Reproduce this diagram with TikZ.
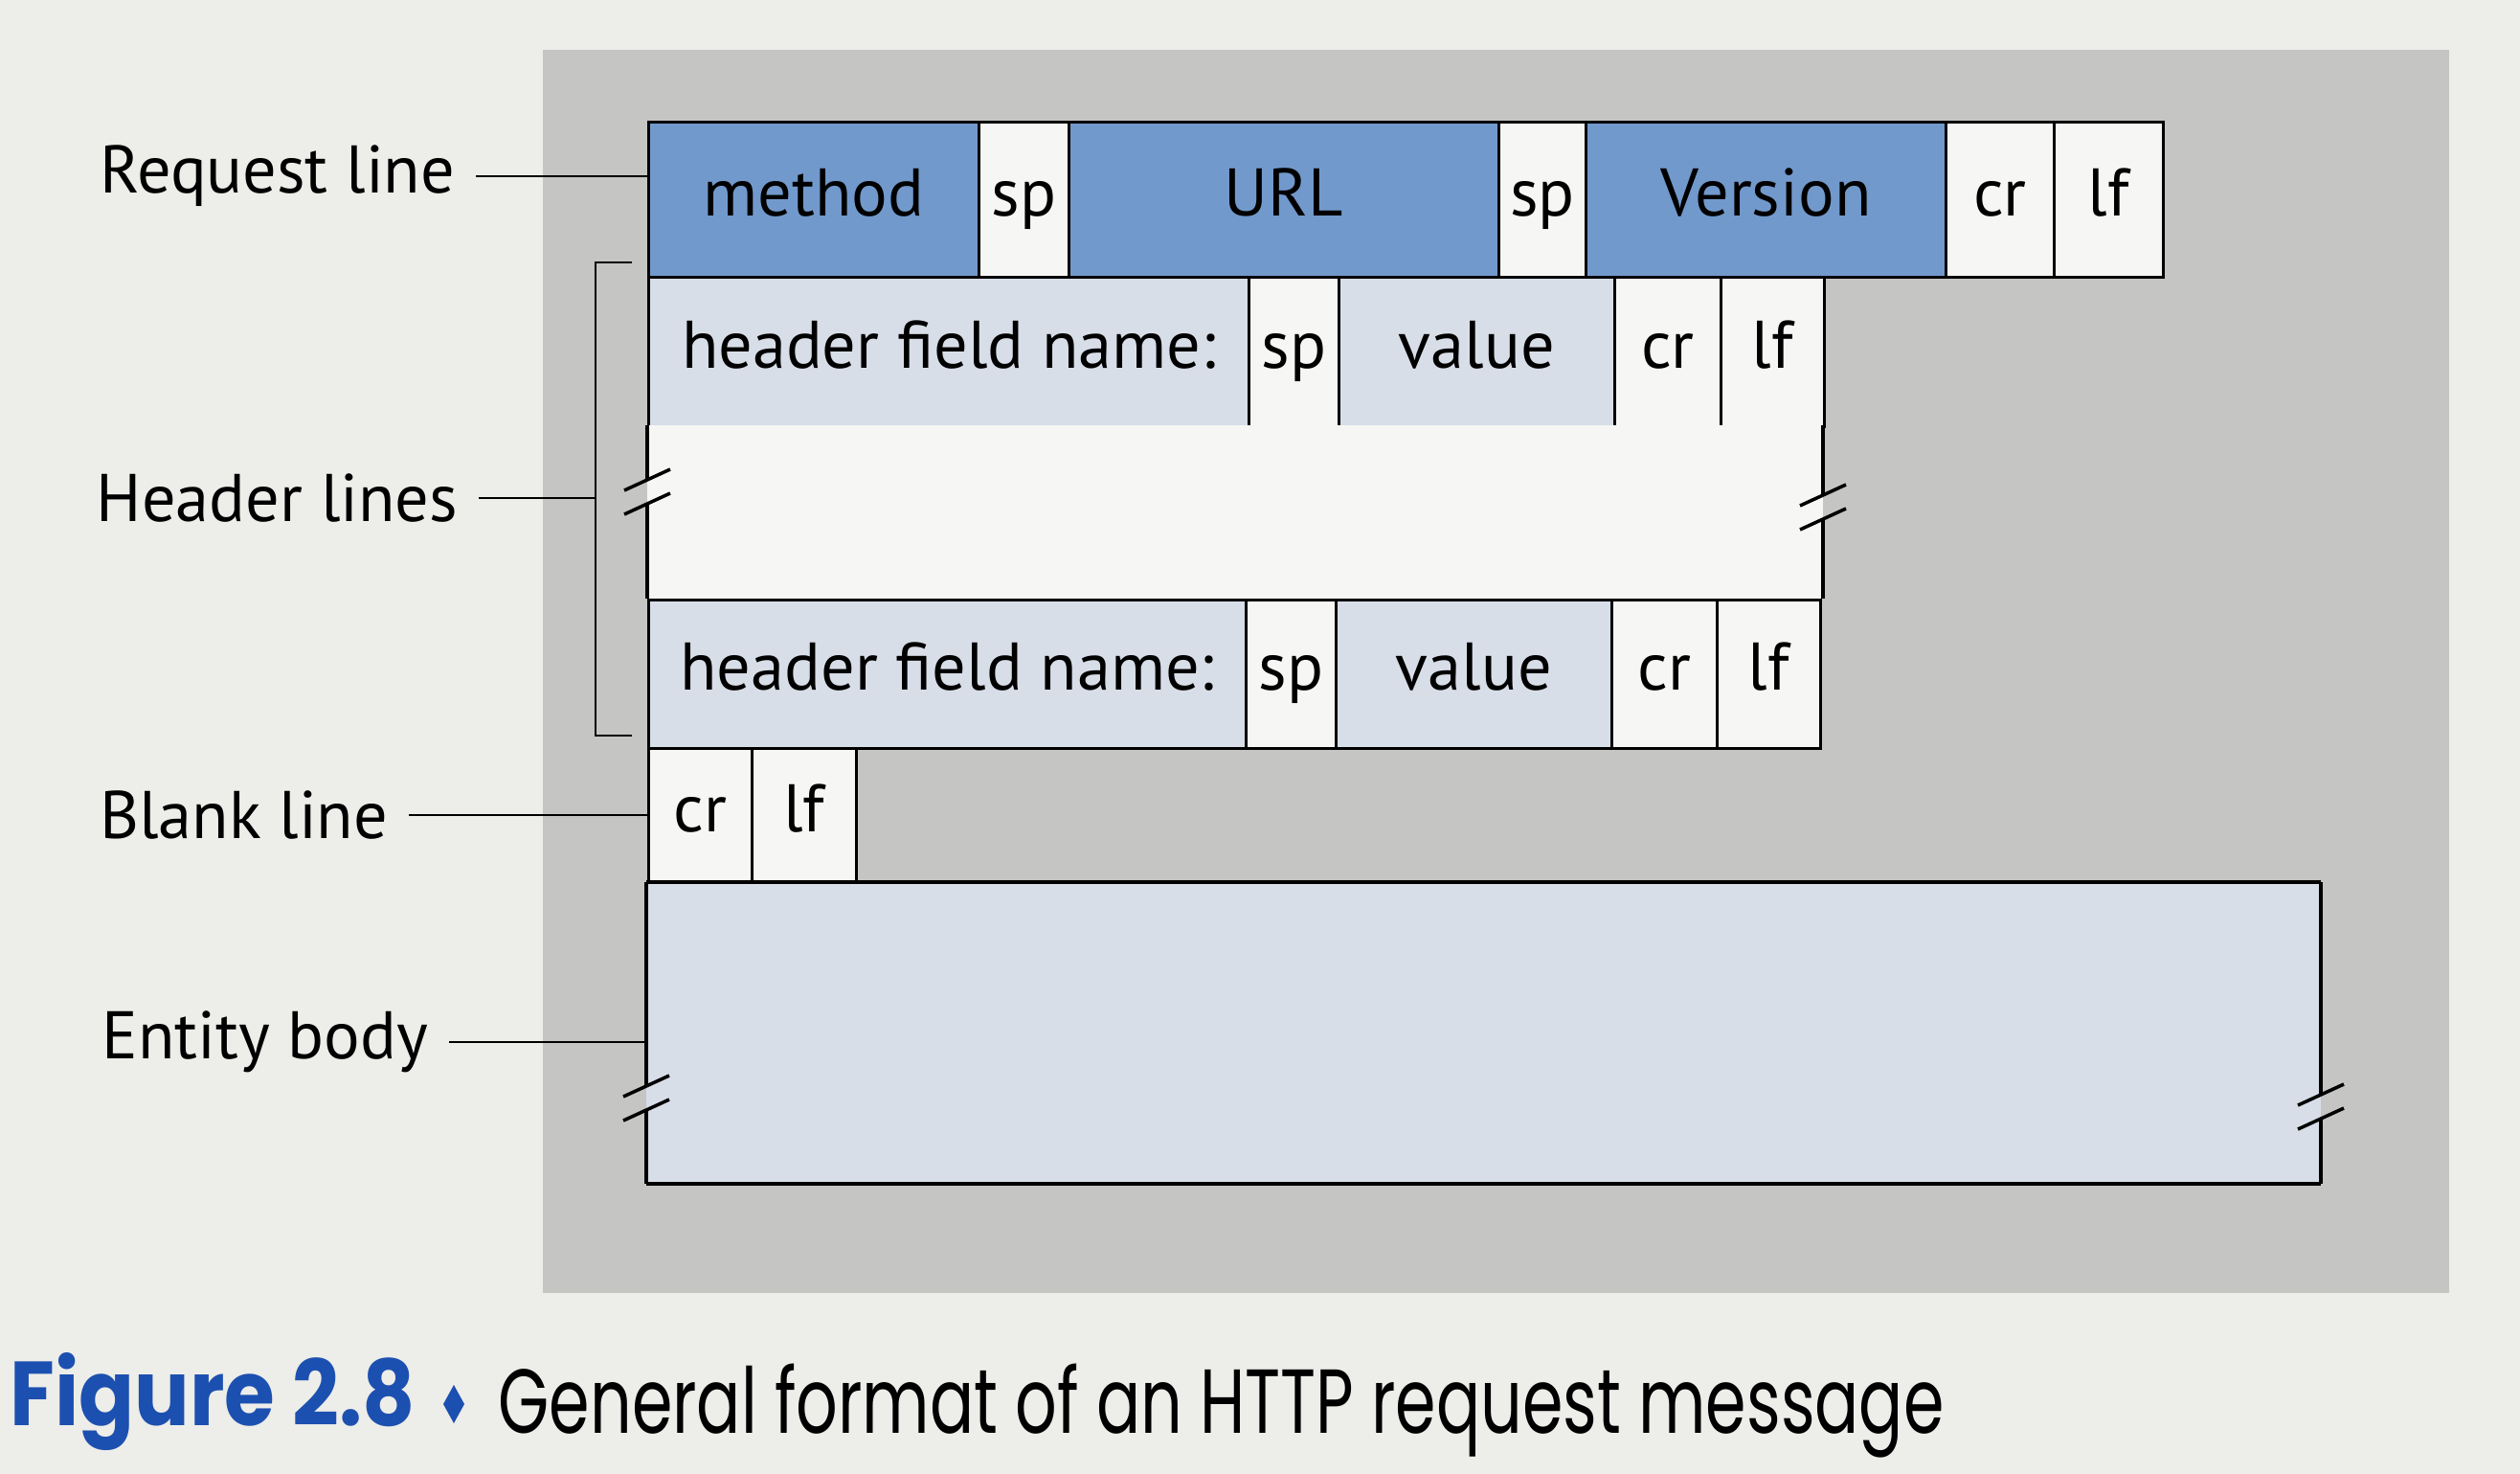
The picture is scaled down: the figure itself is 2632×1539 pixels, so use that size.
\documentclass[tikz,border=0pt]{standalone}
\usepackage{fontspec}
\setsansfont{PT Sans}
\newfontfamily\capfont[FakeStretch=0.72]{Poppins}
\newfontfamily\capnumfont[FakeStretch=0.9]{Poppins}
\usetikzlibrary{calc}

\definecolor{pagebg}{RGB}{237,237,233}
\definecolor{figbg}{RGB}{197,197,196}
\definecolor{fieldblue}{RGB}{114,153,204}
\definecolor{fieldpale}{RGB}{216,222,232}
\definecolor{fieldwhite}{RGB}{246,246,244}
\definecolor{capblue}{RGB}{28,80,176}

\newcommand\figfont{\sffamily\fontsize{20}{23}\selectfont}

\tikzset{
  cell/.style={draw, line width=0.8pt, inner sep=0pt, anchor=north west, font=\figfont, text=black,
    text height=2.7ex, text depth=0.5ex},
  bluecell/.style={cell, fill=fieldblue},
  palecell/.style={cell, fill=fieldpale},
  whitecell/.style={cell, fill=fieldwhite},
  partname/.style={font=\figfont, anchor=east, inner sep=6pt},
  leader/.style={line width=0.8pt},
  edge/.style={line width=1pt},
}

% cell with top left corner (x1,y1) and bottom right corner (x2,y2), in pixels
\def\cellbox[#1](#2)(#3,#4)(#5,#6)#7{\node[#1, minimum width={(#5-#3)*0.01cm}, minimum height={(#6-#4)*0.01cm}] (#2) at (#3,#4) {#7};}
% broken edge: two short slashes across a vertical line at (x,y)
\def\breakmark(#1,#2){\draw[edge] (#1-24,#2-1) -- (#1+24,#2-23); \draw[edge] (#1-24,#2+24) -- (#1+24,#2+2);}

\begin{document}
\begin{tikzpicture}[x=0.01cm, y=-0.01cm]
			%%%%% BACKGROUND %%%%%
			\fill[pagebg] (0,0) rectangle (2632,1539);
			\useasboundingbox (0,0) rectangle (2632,1539);
			\fill[figbg] (567,52) rectangle (2558,1350);

			%%%%% REQUEST LINE %%%%%
			\cellbox[bluecell](method)(676,126)(1021,288){method}
			\cellbox[whitecell](spa)(1021,126)(1115,288){sp}
			\cellbox[bluecell](url)(1115,126)(1564,288){URL}
			\cellbox[whitecell](spb)(1564,126)(1655,288){sp}
			\cellbox[bluecell](version)(1655,126)(2031,288){Version}
			\cellbox[whitecell](cra)(2031,126)(2144,288){cr}
			\cellbox[whitecell](lfa)(2144,126)(2258,288){lf}

			%%%%% HEADER LINES %%%%%
			\cellbox[palecell](hnamea)(676,288)(1303,444){header field name:}
			\cellbox[whitecell](spc)(1303,288)(1397,444){sp}
			\cellbox[palecell](valuea)(1397,288)(1685,444){value}
			\cellbox[whitecell](crb)(1685,288)(1796,444){cr}
			\cellbox[whitecell](lfb)(1796,288)(1904,444){lf}

			\fill[fieldwhite] (676,444) rectangle (1904,625);
			\draw[edge] (676,444) -- (676,500);
			\draw[edge] (676,525) -- (676,625);
			\breakmark(676,513)
			\draw[edge] (1904,444) -- (1904,516);
			\draw[edge] (1904,541) -- (1904,625);
			\breakmark(1904,529)

			\cellbox[palecell](hnameb)(676,625)(1300,780){header field name:}
			\cellbox[whitecell](spd)(1300,625)(1394,780){sp}
			\cellbox[palecell](valueb)(1394,625)(1682,780){value}
			\cellbox[whitecell](crc)(1682,625)(1792,780){cr}
			\cellbox[whitecell](lfc)(1792,625)(1900,780){lf}

			% bracket round the header lines
			\draw[leader] (660,274) -- (622,274) -- (622,768) -- (660,768);
			\coordinate (hbrace) at (622,520);

			%%%%% BLANK LINE %%%%%
			\cellbox[whitecell](crd)(676,780)(784,921){cr}
			\cellbox[whitecell](lfd)(784,780)(893,921){lf}

			%%%%% ENTITY BODY %%%%%
			\fill[fieldpale] (675,921) rectangle (2424,1236);
			\draw[edge] (675,921) -- (2424,921);
			\draw[edge] (675,1236) -- (2424,1236);
			\draw[edge] (675,921) -- (675,1133);
			\draw[edge] (675,1158) -- (675,1236);
			\breakmark(675,1146)
			\draw[edge] (2424,921) -- (2424,1142);
			\draw[edge] (2424,1167) -- (2424,1236);
			\breakmark(2424,1155)
			\coordinate (body) at (675,1088);

			%%%%% PART NAMES %%%%%
			\node[partname] (reqname) at (497,184) {Request line};
			\node[partname] (hdrname) at (500,520) {Header lines};
			\node[partname] (blankname) at (427,851) {Blank line};
			\node[partname] (bodyname) at (469,1088) {Entity body};
			\draw[leader] (reqname.east) -- (reqname.east -| method.west);
			\draw[leader] (hdrname.east) -- (hdrname.east -| hbrace);
			\draw[leader] (blankname.east) -- (blankname.east -| crd.west);
			\draw[leader] (bodyname.east) -- (bodyname.east -| body);

			%%%%% CAPTION %%%%%
			\node[anchor=base west, inner sep=0pt, text=capblue, font=\capnumfont\bfseries\fontsize{27}{30}\selectfont] (fignum) at (10,1488) {Figure 2.8};
			\fill[capblue] (474,1446) -- (485,1466) -- (474,1486) -- (463,1466) -- cycle;
			\node[anchor=base west, inner sep=0pt, font=\capfont\fontsize{27}{30}\selectfont] (captext) at (520,1496) {General format of an HTTP request message};
\end{tikzpicture}
\end{document}
